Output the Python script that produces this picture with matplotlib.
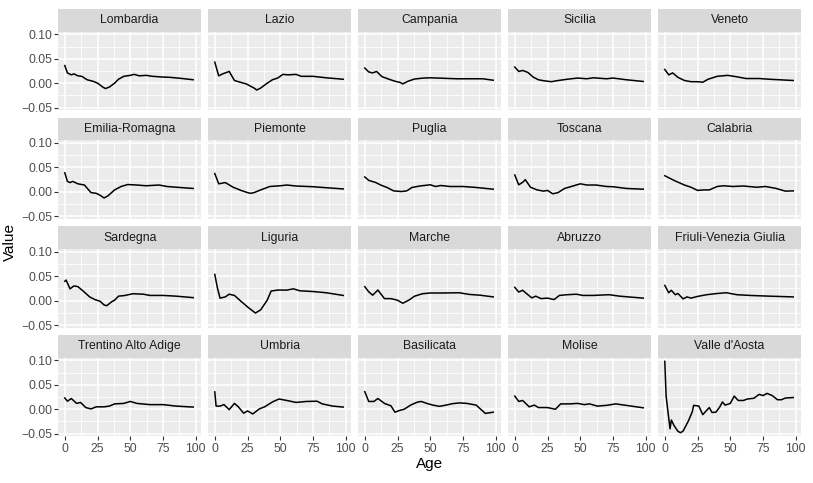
import matplotlib
matplotlib.use("Agg")
import matplotlib.pyplot as plt
from matplotlib.ticker import FixedLocator, FuncFormatter

plt.rcParams['font.family'] = ['Liberation Sans', 'DejaVu Sans']

regions = ["Lombardia", "Lazio", "Campania", "Sicilia", "Veneto",
           "Emilia-Romagna", "Piemonte", "Puglia", "Toscana", "Calabria",
           "Sardegna", "Liguria", "Marche", "Abruzzo", "Friuli-Venezia Giulia",
           "Trentino Alto Adige", "Umbria", "Basilicata", "Molise", "Valle d'Aosta"]

ages_lombardia = [0, 2, 5, 7, 10, 13, 17, 22, 25, 29, 31, 34, 38, 41, 45, 50, 53, 57, 62, 67, 75, 80, 88, 98]
vals_lombardia = [0.036, 0.021, 0.017, 0.019, 0.015, 0.014, 0.007, 0.0035, 0.0, -0.008, -0.011, -0.008, 0.0, 0.008, 0.014, 0.016, 0.018, 0.015, 0.016, 0.014, 0.0125, 0.012, 0.010, 0.007]

ages_lazio = [0, 3, 6, 11, 15, 20, 24, 30, 32, 35, 40, 44, 48, 52, 56, 62, 66, 75, 85, 98]
vals_lazio = [0.043, 0.015, 0.019, 0.024, 0.0055, 0.0015, -0.0015, -0.010, -0.014, -0.010, 0.0, 0.007, 0.0105, 0.018, 0.017, 0.018, 0.014, 0.014, 0.011, 0.008]

ages_campania = [0, 3, 6, 9, 13, 18, 23, 27, 29, 33, 38, 45, 50, 60, 70, 80, 90, 98]
vals_campania = [0.031, 0.023, 0.021, 0.024, 0.0135, 0.0085, 0.004, 0.0015, -0.0015, 0.004, 0.0085, 0.0105, 0.011, 0.010, 0.009, 0.009, 0.009, 0.006]

ages_sicilia = [0, 3, 6, 10, 14, 18, 22, 28, 32, 40, 48, 55, 60, 70, 75, 85, 98]
vals_sicilia = [0.033, 0.024, 0.026, 0.022, 0.0125, 0.007, 0.005, 0.003, 0.005, 0.008, 0.0105, 0.009, 0.011, 0.009, 0.0105, 0.007, 0.0035]

ages_veneto = [0, 3, 6, 10, 15, 20, 25, 29, 33, 40, 48, 55, 62, 72, 80, 98]
vals_veneto = [0.028, 0.017, 0.021, 0.012, 0.0055, 0.003, 0.003, 0.002, 0.008, 0.014, 0.016, 0.013, 0.0095, 0.0095, 0.008, 0.0055]

ages_emilia = [0, 2, 4, 6, 10, 15, 20, 24, 27, 30, 33, 38, 43, 48, 55, 62, 72, 78, 85, 98]
vals_emilia = [0.039, 0.0215, 0.019, 0.0215, 0.0165, 0.014, -0.0015, -0.003, -0.007, -0.0125, -0.008, 0.004, 0.011, 0.015, 0.014, 0.0125, 0.014, 0.011, 0.0095, 0.007]

ages_piemonte = [0, 3, 8, 14, 20, 25, 27, 30, 35, 42, 50, 55, 62, 75, 85, 98]
vals_piemonte = [0.0375, 0.0165, 0.019, 0.0095, 0.003, -0.0015, -0.003, -0.0015, 0.004, 0.011, 0.0125, 0.014, 0.012, 0.0105, 0.0085, 0.006]

ages_puglia = [0, 3, 8, 13, 17, 22, 28, 32, 36, 42, 50, 54, 58, 65, 75, 85, 98]
vals_puglia = [0.0305, 0.0235, 0.0195, 0.013, 0.009, 0.002, 0.0007, 0.002, 0.009, 0.012, 0.0145, 0.011, 0.013, 0.011, 0.011, 0.009, 0.0055]

ages_toscana = [0, 3, 6, 8, 12, 17, 22, 25, 29, 33, 38, 45, 50, 55, 62, 70, 75, 85, 98]
vals_toscana = [0.0345, 0.0145, 0.0195, 0.025, 0.0095, 0.004, 0.0015, 0.003, -0.004, -0.0015, 0.007, 0.0125, 0.0165, 0.014, 0.014, 0.011, 0.0105, 0.007, 0.0055]

ages_calabria = [0, 7, 15, 20, 25, 30, 34, 40, 45, 52, 60, 70, 77, 85, 92, 98]
vals_calabria = [0.033, 0.0235, 0.014, 0.0095, 0.003, 0.004, 0.004, 0.011, 0.0125, 0.011, 0.012, 0.0095, 0.011, 0.007, 0.0015, 0.002]

ages_sardegna = [0, 1, 4, 7, 10, 14, 19, 23, 27, 30, 32, 36, 38, 41, 46, 52, 60, 65, 75, 85, 98]
vals_sardegna = [0.0395, 0.042, 0.024, 0.030, 0.0285, 0.0195, 0.0075, 0.002, -0.0015, -0.009, -0.0105, -0.002, 0.0007, 0.009, 0.0105, 0.014, 0.013, 0.0105, 0.0105, 0.009, 0.006]

ages_liguria = [0, 2, 4, 8, 11, 15, 20, 25, 31, 35, 40, 43, 48, 55, 60, 65, 75, 85, 98]
vals_liguria = [0.0535, 0.026, 0.005, 0.0075, 0.013, 0.0105, -0.0015, -0.013, -0.0255, -0.019, 0.0007, 0.0195, 0.0215, 0.0215, 0.024, 0.020, 0.0185, 0.016, 0.0105]

ages_marche = [0, 3, 6, 10, 15, 20, 25, 29, 34, 38, 44, 50, 60, 72, 80, 88, 98]
vals_marche = [0.0285, 0.018, 0.011, 0.0215, 0.004, 0.004, 0.0007, -0.0055, 0.0015, 0.009, 0.014, 0.0155, 0.0155, 0.016, 0.0125, 0.011, 0.0075]

ages_abruzzo = [0, 3, 6, 10, 13, 16, 20, 25, 30, 34, 40, 47, 52, 60, 72, 80, 98]
vals_abruzzo = [0.027, 0.0175, 0.021, 0.012, 0.0055, 0.009, 0.004, 0.005, 0.002, 0.0105, 0.012, 0.013, 0.0105, 0.0105, 0.012, 0.009, 0.005]

ages_friuli = [0, 3, 5, 8, 10, 14, 17, 20, 25, 32, 40, 47, 55, 65, 80, 98]
vals_friuli = [0.031, 0.016, 0.021, 0.012, 0.0145, 0.0035, 0.0075, 0.005, 0.0085, 0.012, 0.0145, 0.016, 0.012, 0.0105, 0.009, 0.0075]

ages_trentino = [0, 2, 5, 9, 12, 16, 20, 24, 30, 34, 38, 45, 50, 55, 65, 75, 85, 98]
vals_trentino = [0.023, 0.0165, 0.022, 0.012, 0.014, 0.0035, 0.0007, 0.005, 0.005, 0.0065, 0.011, 0.012, 0.016, 0.012, 0.0095, 0.0095, 0.0065, 0.0045]

ages_umbria = [0, 1, 4, 7, 11, 15, 18, 22, 25, 29, 34, 38, 44, 49, 55, 62, 70, 78, 82, 90, 98]
vals_umbria = [0.0355, 0.0065, 0.0065, 0.0095, -0.0007, 0.012, 0.005, -0.008, -0.0035, -0.0095, 0.0007, 0.005, 0.015, 0.021, 0.018, 0.014, 0.016, 0.0165, 0.011, 0.0065, 0.0045]

ages_basilicata = [0, 3, 7, 10, 15, 20, 23, 27, 30, 35, 40, 43, 48, 52, 57, 62, 67, 72, 78, 85, 92, 98]
vals_basilicata = [0.036, 0.016, 0.016, 0.022, 0.012, 0.007, -0.006, -0.002, 0.0, 0.0085, 0.0145, 0.016, 0.0115, 0.0085, 0.006, 0.0085, 0.0115, 0.013, 0.012, 0.0085, -0.0085, -0.006]

ages_molise = [0, 3, 6, 11, 15, 18, 25, 31, 35, 42, 48, 53, 57, 63, 70, 77, 85, 98]
vals_molise = [0.027, 0.016, 0.018, 0.005, 0.0085, 0.0035, 0.0035, 0.0, 0.011, 0.011, 0.012, 0.0095, 0.011, 0.0065, 0.008, 0.011, 0.008, 0.003]

ages_valle = [0, 1, 4, 5, 7, 10, 12, 14, 18, 21, 22, 26, 29, 32, 34, 36, 39, 42, 44, 46, 50, 53, 56, 60, 63, 68, 72, 75, 78, 82, 86, 89, 92, 98]
vals_valle = [0.098, 0.027, -0.040, -0.022, -0.033, -0.045, -0.048, -0.0445, -0.024, -0.005, 0.008, 0.0065, -0.011, -0.002, 0.0035, -0.0065, -0.006, 0.005, 0.015, 0.0085, 0.012, 0.027, 0.018, 0.018, 0.021, 0.0225, 0.0305, 0.028, 0.0325, 0.028, 0.0195, 0.0195, 0.023, 0.024]

series = [
    (ages_lombardia, vals_lombardia), (ages_lazio, vals_lazio), (ages_campania, vals_campania),
    (ages_sicilia, vals_sicilia), (ages_veneto, vals_veneto),
    (ages_emilia, vals_emilia), (ages_piemonte, vals_piemonte), (ages_puglia, vals_puglia),
    (ages_toscana, vals_toscana), (ages_calabria, vals_calabria),
    (ages_sardegna, vals_sardegna), (ages_liguria, vals_liguria), (ages_marche, vals_marche),
    (ages_abruzzo, vals_abruzzo), (ages_friuli, vals_friuli),
    (ages_trentino, vals_trentino), (ages_umbria, vals_umbria), (ages_basilicata, vals_basilicata),
    (ages_molise, vals_molise), (ages_valle, vals_valle),
]

x_ticks = [0, 25, 50, 75, 100]
y_ticks = [-0.05, 0.00, 0.05, 0.10]

W, H = 813, 483
fig = plt.figure(figsize=(W / 100, H / 100), dpi=100)

col_left = [58.3 + 150 * i for i in range(5)]
panel_w = 142.7
strip_top = [9 + 108.7 * j for j in range(4)]
strip_h = 22.5
panel_h = 78.8

for idx, name in enumerate(regions):
    r, c = divmod(idx, 5)
    x0 = col_left[c]
    ptop = strip_top[r] + strip_h
    ax = fig.add_axes([x0 / W, 1 - (ptop + panel_h) / H, panel_w / W, panel_h / H])
    ax.set_facecolor('#EBEBEB')
    for s in ax.spines.values():
        s.set_visible(False)
    ax.set_xlim(-4.95, 103.95)
    ax.set_ylim(-0.0555, 0.1057)
    ax.xaxis.set_major_locator(FixedLocator(x_ticks))
    ax.yaxis.set_major_locator(FixedLocator(y_ticks))
    ax.xaxis.set_minor_locator(FixedLocator([12.5, 37.5, 62.5, 87.5]))
    ax.yaxis.set_minor_locator(FixedLocator([-0.025, 0.025, 0.075]))
    ax.grid(which='major', color='white', linewidth=1.1)
    ax.grid(which='minor', color='white', linewidth=0.55)
    ax.set_axisbelow(True)
    ax.tick_params(which='minor', length=0)
    ax.tick_params(which='major', length=3, width=0.8, color='#333333',
                   labelsize=8.8, labelcolor='#4D4D4D', pad=1.5)
    ax.yaxis.set_major_formatter(FuncFormatter(lambda v, p: f"{v:.2f}".replace('-', '\u2212')))
    if c != 0:
        ax.tick_params(axis='y', length=0, labelleft=False)
    if r != 3:
        ax.tick_params(axis='x', length=0, labelbottom=False)
    ages, vals = series[idx]
    ax.plot(ages, vals, color='black', linewidth=1.1)

    # strip
    sax = fig.add_axes([x0 / W, 1 - (strip_top[r] + strip_h) / H, panel_w / W, strip_h / H])
    sax.set_facecolor('#D9D9D9')
    sax.set_xticks([]); sax.set_yticks([])
    for s in sax.spines.values():
        s.set_visible(False)
    sax.text(0.5, 0.5, name, ha='center', va='center', fontsize=8.8, color='#1A1A1A',
             transform=sax.transAxes)

fig.text(430 / W, 1 - 464 / H, 'Age', ha='center', va='center', fontsize=11, color='black')
fig.text(10 / W, 1 - 242 / H, 'Value', ha='center', va='center', fontsize=11, color='black', rotation=90)

fig.savefig('out.png', dpi=100, facecolor='white')
